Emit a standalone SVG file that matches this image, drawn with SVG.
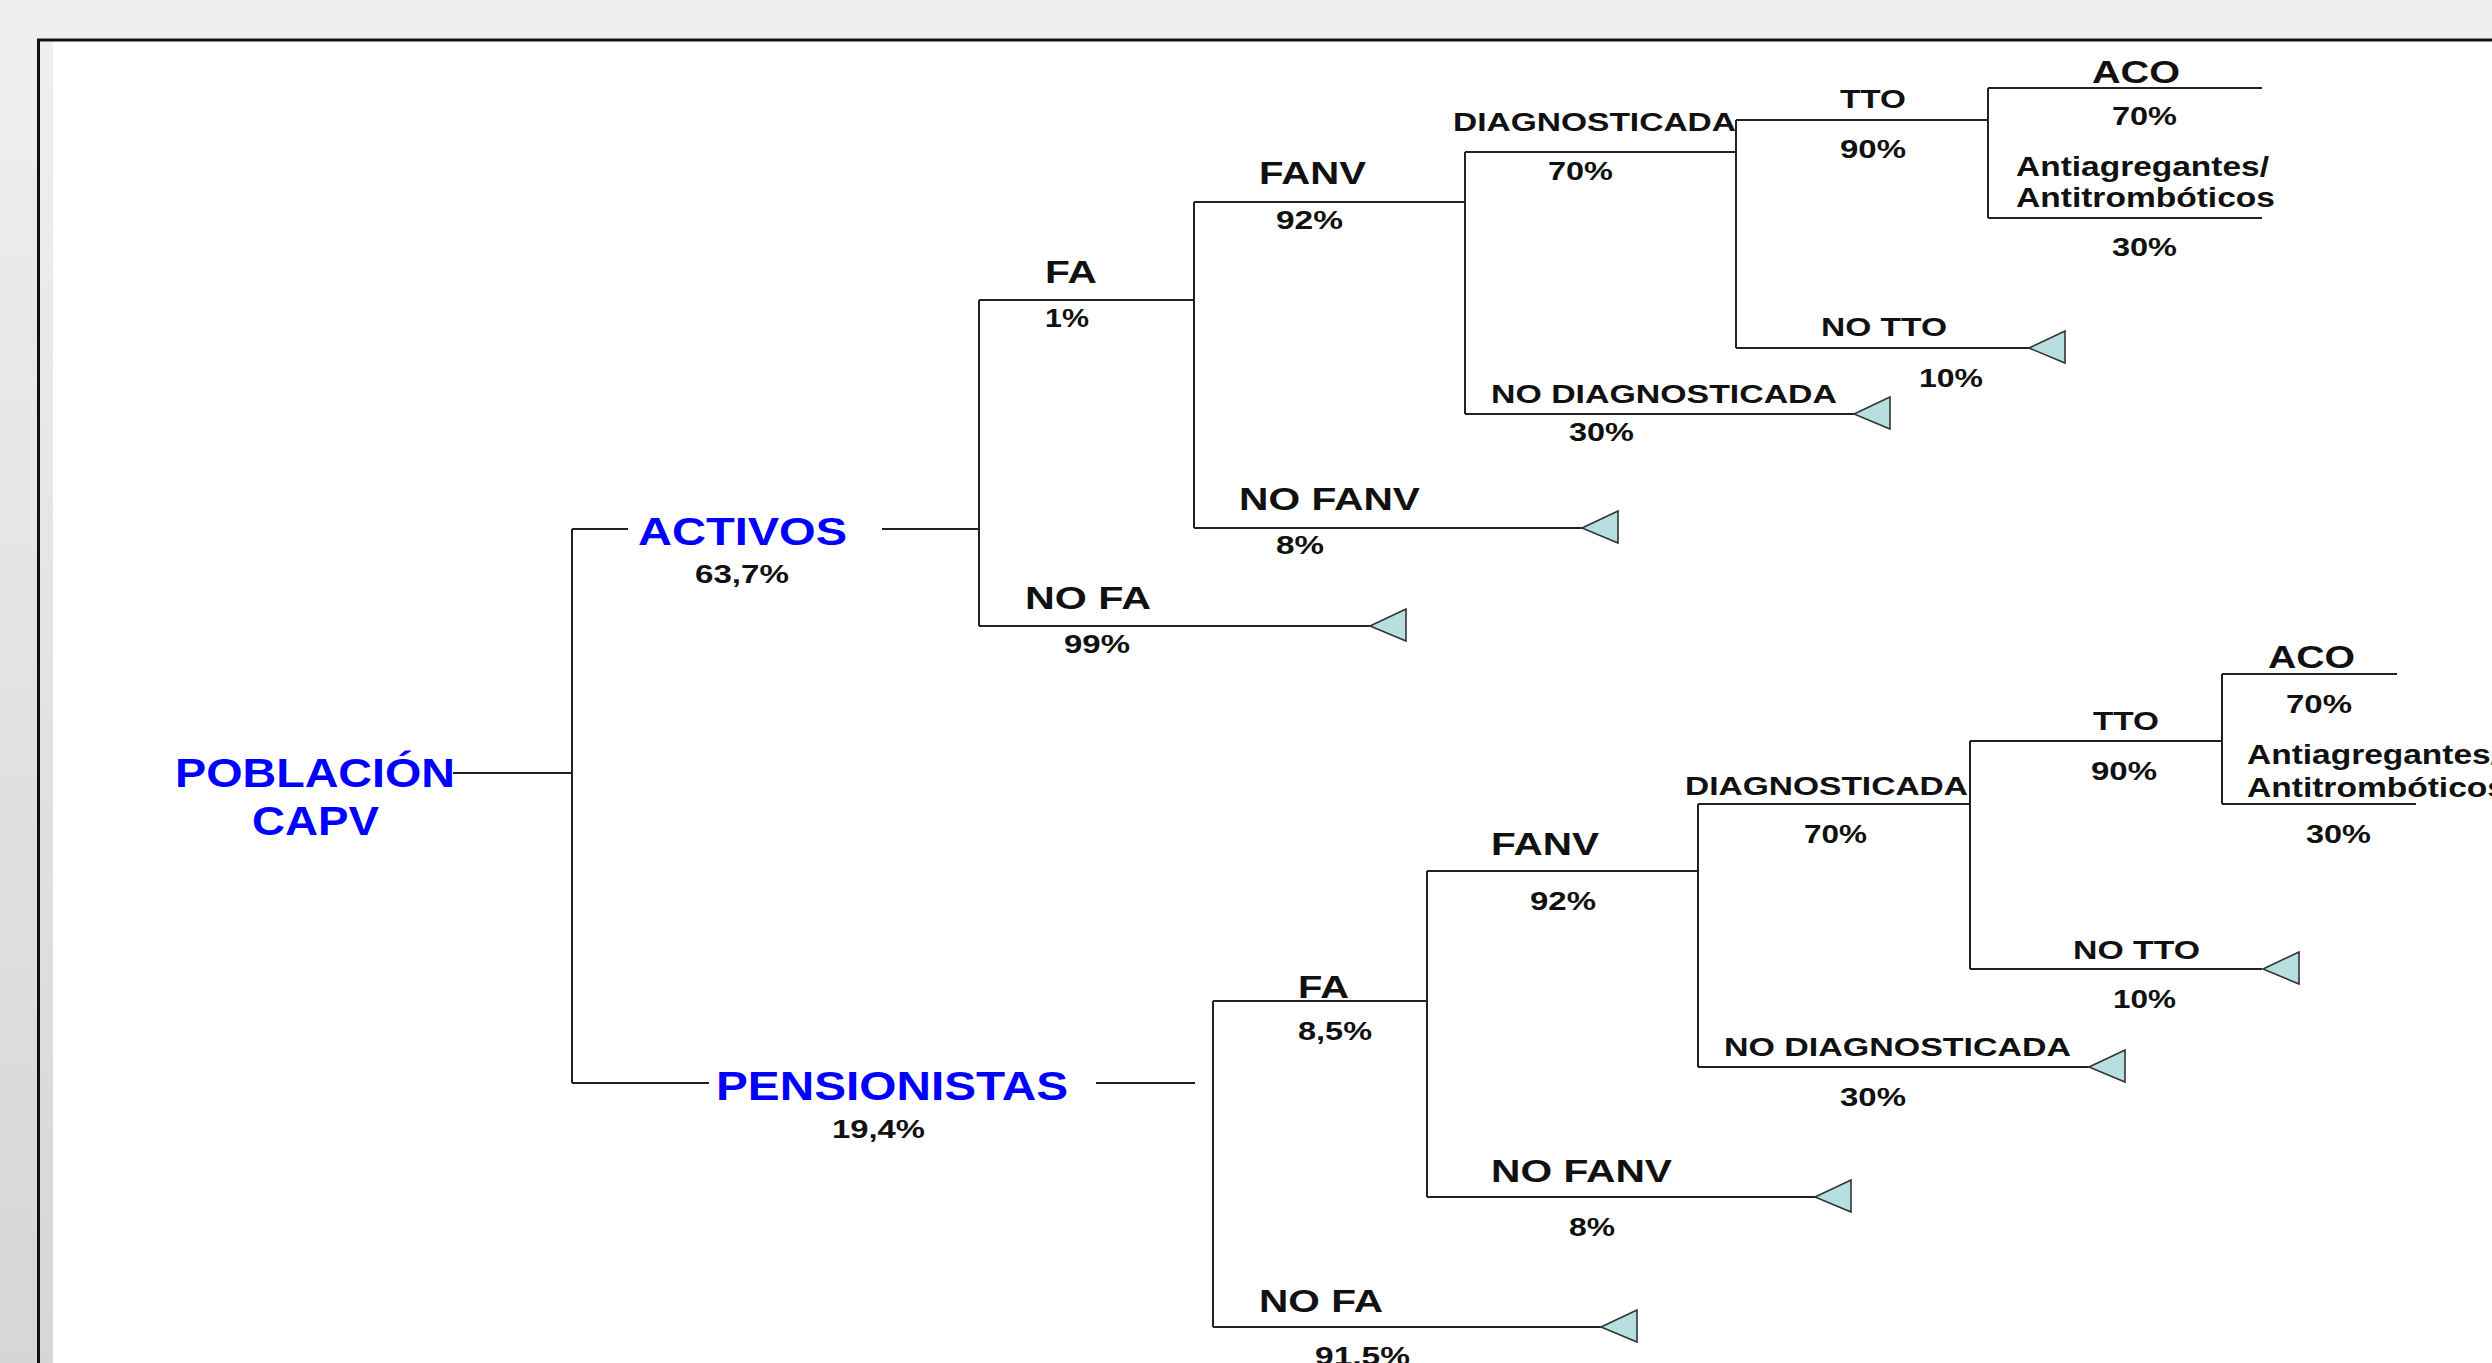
<svg xmlns="http://www.w3.org/2000/svg" xmlns:xlink="http://www.w3.org/1999/xlink" width="2492" height="1363" viewBox="0 0 2492 1363">
<style>
.t{font-family:"Liberation Sans",Arial,sans-serif;font-weight:bold;fill:#111}
.b{fill:#0000ff}
.c{fill:none;stroke:#222;stroke-width:2}
.leaf{fill:#b8dfe0;stroke:#333;stroke-width:1.6;stroke-linejoin:miter}
</style>
<defs>
<linearGradient id="bg" x1="0" y1="0" x2="0" y2="1">
<stop offset="0" stop-color="#efefef"/>
<stop offset="1" stop-color="#d6d6d6"/>
</linearGradient>
<path id="tri" d="M0,0 L36,-17 L36,15 Z"/>
</defs>
<rect width="2492" height="1363" fill="url(#bg)"/>
<rect x="39" y="40" width="2453" height="1323" fill="#ffffff"/>
<rect x="40" y="42" width="13" height="1321" fill="url(#bg)"/>
<path d="M38.5,1363 V40 H2492" fill="none" stroke="#111" stroke-width="3"/>

<g id="connectors">
<path class="c" d="M453,773 H572 M572,529 V1083 M572,529 H628 M572,1083 H709 M882,529 H979 M1096,1083 H1195"/>
<path class="c" d="M979,300 V626 M979,300 H1194 M979,626 H1372 M1194,202 V528 M1194,202 H1465 M1194,528 H1583 M1465,152 V414 M1465,152 H1736 M1465,414 H1855 M1736,120 V348 M1736,120 H1988 M1736,348 H2029 M1988,88 V218 M1988,88 H2262 M1988,218 H2262"/>
<path class="c" d="M1213,1001 V1327 M1213,1001 H1427 M1213,1327 H1602 M1427,871 V1197 M1427,871 H1698 M1427,1197 H1815 M1698,804 V1067 M1698,804 H1970 M1698,1067 H2089 M1970,741 V969 M1970,741 H2222 M1970,969 H2262 M2222,674 V804 M2222,674 H2397 M2222,804 H2416"/>
<use xlink:href="#tri" class="leaf" x="1370" y="626"/>
<use xlink:href="#tri" class="leaf" x="1582" y="528"/>
<use xlink:href="#tri" class="leaf" x="1854" y="414"/>
<use xlink:href="#tri" class="leaf" x="2029" y="348"/>
<use xlink:href="#tri" class="leaf" x="1601" y="1327"/>
<use xlink:href="#tri" class="leaf" x="1815" y="1197"/>
<use xlink:href="#tri" class="leaf" x="2089" y="1067"/>
<use xlink:href="#tri" class="leaf" x="2263" y="969"/>
</g>

<g id="n-poblacion">
<text class="t b" x="175" y="787" font-size="40" textLength="280" lengthAdjust="spacingAndGlyphs">POBLACIÓN</text>
<text class="t b" x="252" y="835" font-size="40" textLength="127" lengthAdjust="spacingAndGlyphs">CAPV</text>
</g>
<g id="n-activos">
<text class="t b" x="638" y="545" font-size="39" textLength="209" lengthAdjust="spacingAndGlyphs">ACTIVOS</text>
<text class="t" x="695" y="583" font-size="25" textLength="94" lengthAdjust="spacingAndGlyphs">63,7%</text>
</g>
<g id="n-pensionistas">
<text class="t b" x="716" y="1100" font-size="40" textLength="352" lengthAdjust="spacingAndGlyphs">PENSIONISTAS</text>
<text class="t" x="832" y="1138" font-size="25" textLength="93" lengthAdjust="spacingAndGlyphs">19,4%</text>
</g>

<g id="a-fa">
<text class="t" x="1045" y="283" font-size="31" textLength="52" lengthAdjust="spacingAndGlyphs">FA</text>
<text class="t" x="1045" y="327" font-size="25" textLength="44" lengthAdjust="spacingAndGlyphs">1%</text>
</g>
<g id="a-nofa">
<text class="t" x="1025" y="609" font-size="31" textLength="126" lengthAdjust="spacingAndGlyphs">NO FA</text>
<text class="t" x="1064" y="653" font-size="25" textLength="66" lengthAdjust="spacingAndGlyphs">99%</text>
</g>
<g id="a-fanv">
<text class="t" x="1259" y="184" font-size="31" textLength="107" lengthAdjust="spacingAndGlyphs">FANV</text>
<text class="t" x="1276" y="229" font-size="25" textLength="67" lengthAdjust="spacingAndGlyphs">92%</text>
</g>
<g id="a-nofanv">
<text class="t" x="1239" y="510" font-size="31" textLength="181" lengthAdjust="spacingAndGlyphs">NO FANV</text>
<text class="t" x="1276" y="554" font-size="25" textLength="48" lengthAdjust="spacingAndGlyphs">8%</text>
</g>
<g id="a-diag">
<text class="t" x="1453" y="131" font-size="26" textLength="283" lengthAdjust="spacingAndGlyphs">DIAGNOSTICADA</text>
<text class="t" x="1548" y="180" font-size="26" textLength="65" lengthAdjust="spacingAndGlyphs">70%</text>
</g>
<g id="a-nodiag">
<text class="t" x="1491" y="403" font-size="26" textLength="346" lengthAdjust="spacingAndGlyphs">NO DIAGNOSTICADA</text>
<text class="t" x="1569" y="441" font-size="25" textLength="65" lengthAdjust="spacingAndGlyphs">30%</text>
</g>
<g id="a-tto">
<text class="t" x="1840" y="108" font-size="26" textLength="66" lengthAdjust="spacingAndGlyphs">TTO</text>
<text class="t" x="1840" y="158" font-size="26" textLength="66" lengthAdjust="spacingAndGlyphs">90%</text>
</g>
<g id="a-notto">
<text class="t" x="1821" y="336" font-size="25" textLength="126" lengthAdjust="spacingAndGlyphs">NO TTO</text>
<text class="t" x="1919" y="387" font-size="26" textLength="64" lengthAdjust="spacingAndGlyphs">10%</text>
</g>
<g id="a-aco">
<text class="t" x="2092" y="83" font-size="32" textLength="88" lengthAdjust="spacingAndGlyphs">ACO</text>
<text class="t" x="2112" y="125" font-size="26" textLength="65" lengthAdjust="spacingAndGlyphs">70%</text>
</g>
<g id="a-anti">
<text class="t" x="2016" y="176" font-size="27" textLength="253" lengthAdjust="spacingAndGlyphs">Antiagregantes/</text>
<text class="t" x="2016" y="207" font-size="27" textLength="259" lengthAdjust="spacingAndGlyphs">Antitrombóticos</text>
<text class="t" x="2112" y="256" font-size="26" textLength="65" lengthAdjust="spacingAndGlyphs">30%</text>
</g>

<g id="p-fa">
<text class="t" x="1298" y="998" font-size="31" textLength="51" lengthAdjust="spacingAndGlyphs">FA</text>
<text class="t" x="1298" y="1040" font-size="25" textLength="74" lengthAdjust="spacingAndGlyphs">8,5%</text>
</g>
<g id="p-nofa">
<text class="t" x="1259" y="1312" font-size="31" textLength="124" lengthAdjust="spacingAndGlyphs">NO FA</text>
<text class="t" x="1315" y="1365" font-size="25" textLength="95" lengthAdjust="spacingAndGlyphs">91,5%</text>
</g>
<g id="p-fanv">
<text class="t" x="1491" y="855" font-size="32" textLength="108" lengthAdjust="spacingAndGlyphs">FANV</text>
<text class="t" x="1530" y="910" font-size="25" textLength="66" lengthAdjust="spacingAndGlyphs">92%</text>
</g>
<g id="p-nofanv">
<text class="t" x="1491" y="1182" font-size="32" textLength="181" lengthAdjust="spacingAndGlyphs">NO FANV</text>
<text class="t" x="1569" y="1236" font-size="25" textLength="46" lengthAdjust="spacingAndGlyphs">8%</text>
</g>
<g id="p-diag">
<text class="t" x="1685" y="795" font-size="26" textLength="283" lengthAdjust="spacingAndGlyphs">DIAGNOSTICADA</text>
<text class="t" x="1804" y="843" font-size="26" textLength="63" lengthAdjust="spacingAndGlyphs">70%</text>
</g>
<g id="p-nodiag">
<text class="t" x="1724" y="1056" font-size="26" textLength="347" lengthAdjust="spacingAndGlyphs">NO DIAGNOSTICADA</text>
<text class="t" x="1840" y="1106" font-size="26" textLength="66" lengthAdjust="spacingAndGlyphs">30%</text>
</g>
<g id="p-tto">
<text class="t" x="2093" y="730" font-size="26" textLength="66" lengthAdjust="spacingAndGlyphs">TTO</text>
<text class="t" x="2091" y="780" font-size="26" textLength="66" lengthAdjust="spacingAndGlyphs">90%</text>
</g>
<g id="p-notto">
<text class="t" x="2073" y="959" font-size="26" textLength="127" lengthAdjust="spacingAndGlyphs">NO TTO</text>
<text class="t" x="2113" y="1008" font-size="26" textLength="63" lengthAdjust="spacingAndGlyphs">10%</text>
</g>
<g id="p-aco">
<text class="t" x="2268" y="668" font-size="32" textLength="87" lengthAdjust="spacingAndGlyphs">ACO</text>
<text class="t" x="2286" y="713" font-size="26" textLength="66" lengthAdjust="spacingAndGlyphs">70%</text>
</g>
<g id="p-anti">
<text class="t" x="2247" y="764" font-size="27" textLength="253" lengthAdjust="spacingAndGlyphs">Antiagregantes/</text>
<text class="t" x="2247" y="797" font-size="27" textLength="259" lengthAdjust="spacingAndGlyphs">Antitrombóticos</text>
<text class="t" x="2306" y="843" font-size="26" textLength="65" lengthAdjust="spacingAndGlyphs">30%</text>
</g>
</svg>
